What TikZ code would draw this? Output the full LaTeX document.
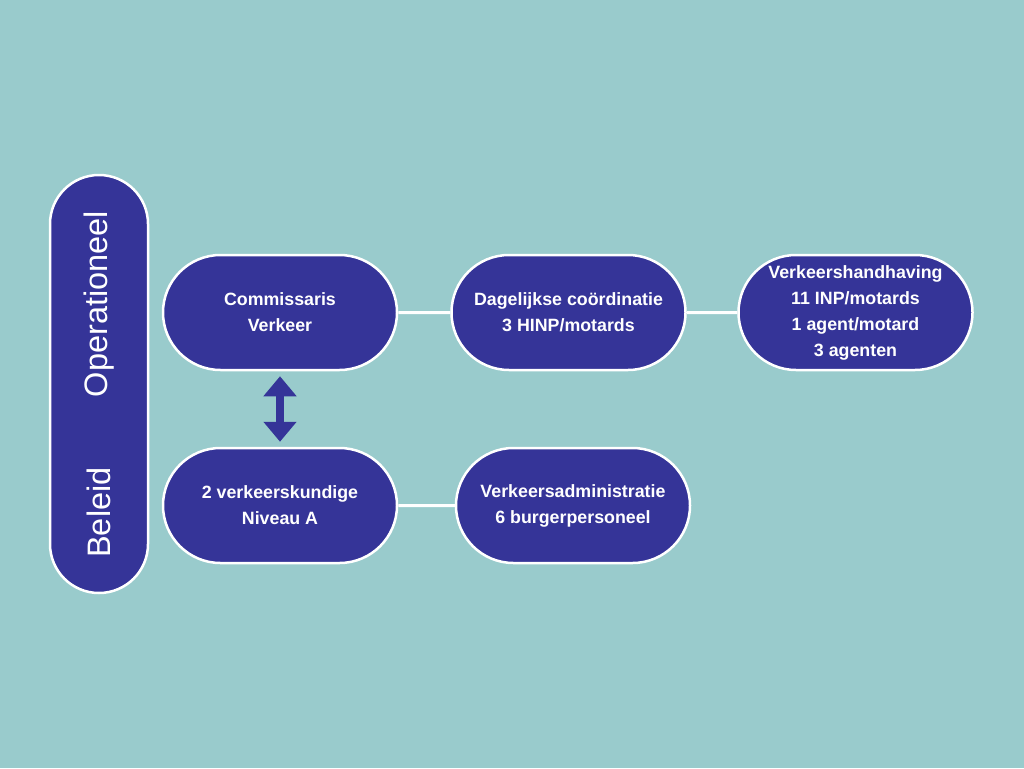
\documentclass[tikz,border=0pt]{standalone}
\usepackage{fontspec}
\setmainfont{Liberation Sans}
\usetikzlibrary{shapes.misc,arrows.meta}

\definecolor{achter}{HTML}{99CBCC}
\definecolor{paars}{HTML}{353498}

\begin{document}
\begin{tikzpicture}[x=1pt, y=-1pt,
  pil/.style={rounded rectangle, draw=white, line width=2.5pt, fill=paars, text=white,
    minimum width=234pt, minimum height=115pt, align=center, inner sep=0pt,
    font=\fontsize{17.8}{26}\selectfont\bfseries},
  lijn/.style={draw=white, line width=3pt},
  zijtekst/.style={text=white, rotate=90, font=\fontsize{32.5}{33}\selectfont}]
        \fill[achter] (0,0) rectangle (1024,768);
        % zijbalk
        \node[draw=white, line width=2.5pt, fill=paars, rounded corners=49pt,
          minimum width=98pt, minimum height=418pt] (balk) at (99,384) {};
        \node[zijtekst] (oper) at (99,304) {Operationeel};
        \node[zijtekst] (bel) at (99,512.5) {Beleid};
        % bovenste rij
        \node[pil] (comm) at (280,312.5) {Commissaris\\Verkeer};
        \node[pil] (dag) at (568.5,312.5) {Dagelijkse coördinatie\\3 HINP/motards};
        \node[pil] (hand) at (855.5,312.5) {Verkeershandhaving\\11 INP/motards\\1 agent/motard\\3 agenten};
        % onderste rij
        \node[pil] (kund) at (280,505.5) {2 verkeerskundige\\Niveau A};
        \node[pil] (adm) at (573,505.5) {Verkeersadministratie\\6 burgerpersoneel};
        % verbindingen
        \draw[lijn] (comm) -- (dag);
        \draw[lijn] (dag) -- (hand);
        \draw[lijn] (kund) -- (adm);
        \draw[paars, line width=8pt, {Triangle[width=32pt,length=20pt]}-{Triangle[width=32pt,length=20pt]},
          shorten <=5pt, shorten >=5pt] (comm.south) -- (kund.north);
\end{tikzpicture}
\end{document}
